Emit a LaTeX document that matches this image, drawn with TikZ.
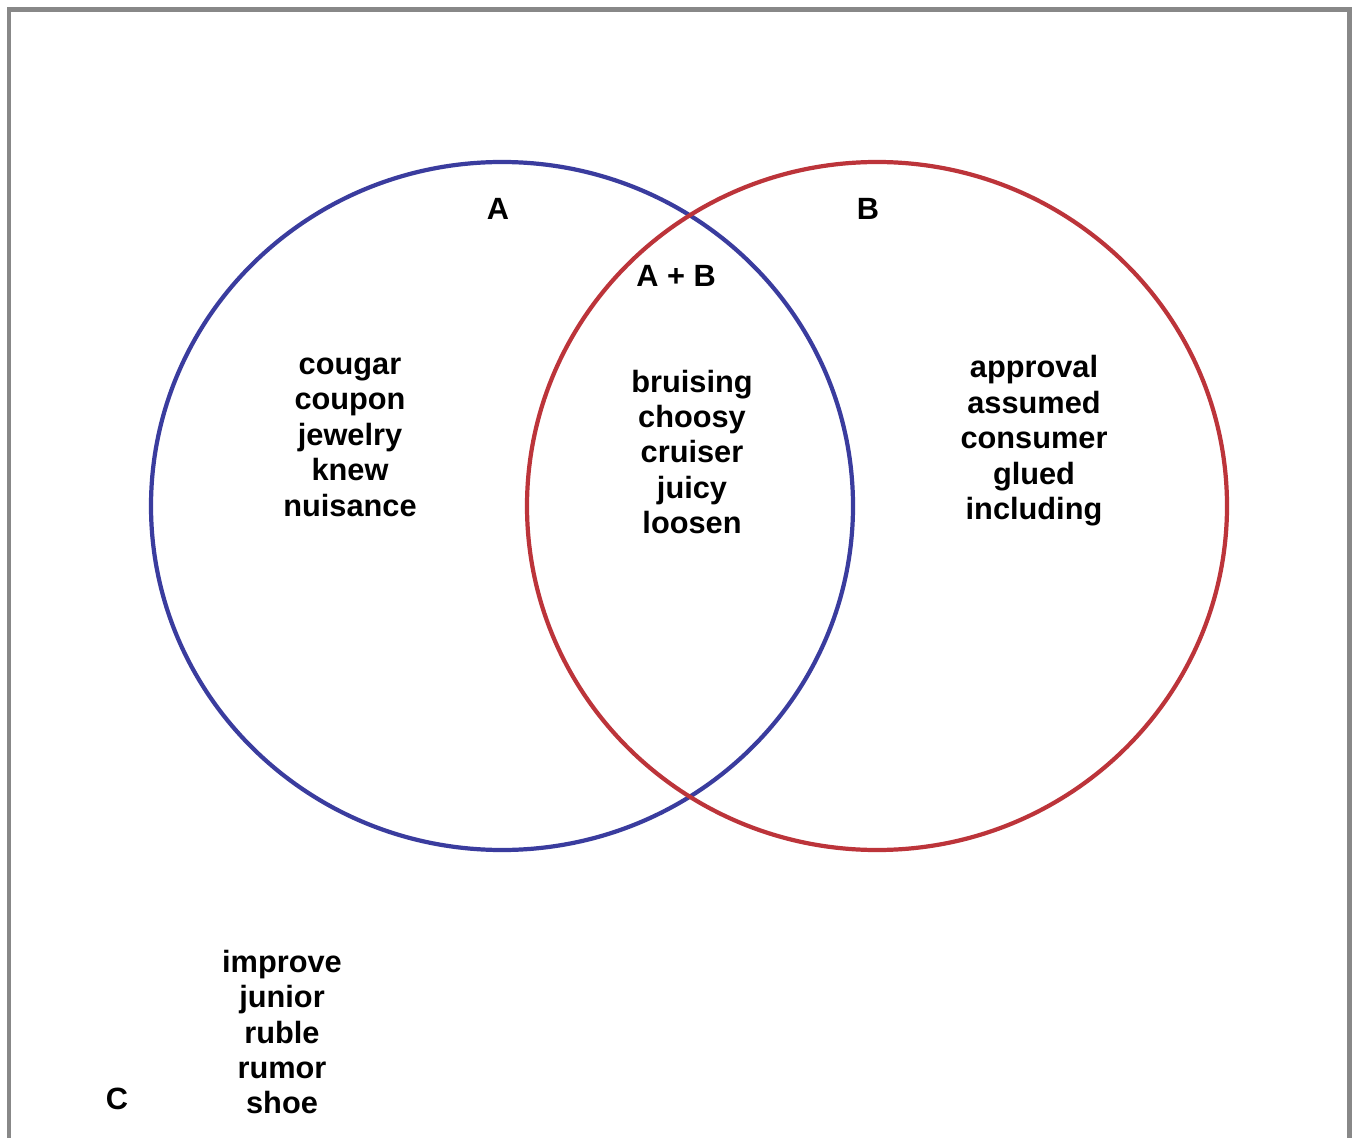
\documentclass[tikz,border=0pt]{standalone}
\usepackage{fontspec}
\setmainfont{Liberation Sans}
\usepackage{tikz}
\definecolor{setblue}{RGB}{58,60,158}
\definecolor{setred}{RGB}{188,52,58}
\definecolor{frame_gray}{RGB}{136,136,136}
\tikzset{
	set_a/.style = {draw=setblue, line width=2.4pt},
	set_b/.style = {draw=setred, line width=2.4pt},
	lbl/.style = {font=\fontsize{17.5}{20.2}\selectfont\bfseries, inner sep=0pt},
	words/.style = {lbl, align=center}
}
\begin{document}
\begin{tikzpicture}[x=0.02cm, y=-0.02cm]
\useasboundingbox (0,0) rectangle (1358,1138);
\fill[white] (0,0) rectangle (1358,1138);
\draw[frame_gray, line width=2.6pt] (9,1150) -- (9,9.5) -- (1349.5,9.5) -- (1349.5,1150);
% the two sets
\draw[set_a] (502,506) ellipse [x radius=351, y radius=344];
\draw[set_b] (877,506) ellipse [x radius=350, y radius=344];
% set names
\node[lbl] (name_a) at (498,209) {A};
\node[lbl] (name_b) at (868,209) {B};
\node[lbl] (name_ab) at (676,276) {A + B};
\node[lbl] (name_c) at (117,1099) {C};
% word lists
\node[words] (only_a) at (350,437) {cougar\\coupon\\jewelry\\knew\\nuisance};
\node[words] (both_ab) at (692,452) {bruising\\choosy\\cruiser\\juicy\\loosen};
\node[words] (only_b) at (1034,441) {approval\\assumed\\consumer\\glued\\including};
\node[words] (none) at (282,1032) {improve\\junior\\ruble\\rumor\\shoe};
\end{tikzpicture}
\end{document}
